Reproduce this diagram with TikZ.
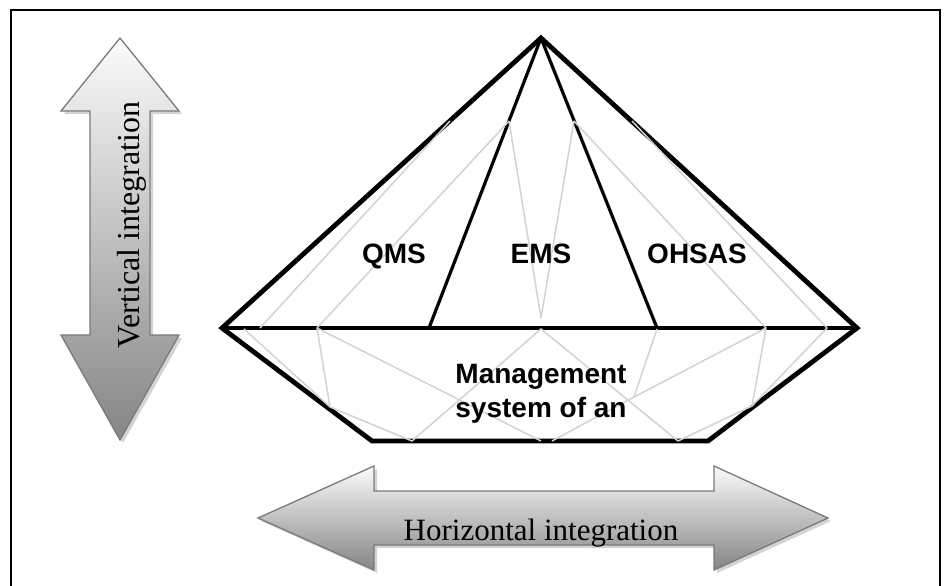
\documentclass[tikz,border=0pt]{standalone}
\usepackage{fontspec}
\setmainfont{Liberation Serif}
\newfontfamily\labelfont{Liberation Sans}
\definecolor{facetgray}{HTML}{D2D2D2}
\definecolor{arrowrim}{HTML}{7A7A7A}
\definecolor{arrowlight}{HTML}{FBFBFB}
\definecolor{arrowdark}{HTML}{858585}
\usetikzlibrary{shadows,calc}

\begin{document}
\begin{tikzpicture}[x=1pt,y=-1pt,every node/.style={inner sep=0pt},
      bigarrow/.style={top color=arrowlight,bottom color=arrowdark,draw=arrowrim,line width=1.3pt,line join=miter,
        drop shadow={shadow xshift=3pt,shadow yshift=-3pt,opacity=.35}},
      rim/.style={line width=4.8pt,line join=miter},
      divider/.style={line width=3.2pt},
      facet/.style={facetgray,line width=1.5pt,line join=round},
      syslabel/.style={font=\labelfont\bfseries\fontsize{28}{34}\selectfont,anchor=base},
      axislabel/.style={font=\fontsize{31}{36}\selectfont,anchor=base}]
    \useasboundingbox (0,0) rectangle (945,586);
    \draw[line width=2pt] (11,586) -- (11,10) -- (940,10) -- (940,586);

    % integration arrows
    \shade[bigarrow] (120,38) -- (179,111) -- (150,111) -- (150,335) -- (179,335) -- (120,440)
      -- (61,335) -- (90,335) -- (90,111) -- (61,111) -- cycle;
    \shade[bigarrow] (258,518) -- (374,466) -- (374,491) -- (714,491) -- (714,466) -- (828,518)
      -- (714,570) -- (714,545) -- (374,545) -- (374,570) -- cycle;
    \node[axislabel,rotate=90,font=\fontsize{32}{36}\selectfont] (vint) at (139,225) {Vertical integration};
    \node[axislabel] (hint) at (541,540) {Horizontal integration};

    % pyramid corners
    \coordinate (apex) at (541,38);
    \coordinate (west) at (222,328);
    \coordinate (east) at (857,328);
    \coordinate (sw) at (372,441);
    \coordinate (se) at (708,441);
    \coordinate (qfoot) at (429,328);
    \coordinate (ofoot) at (657,328);

    \draw[rim] (apex) -- (west) -- (sw) -- (se) -- (east) -- cycle;
    \draw[rim] (west) -- (east);
    \draw[divider] (apex) -- (qfoot);
    \draw[divider] (apex) -- (ofoot);

    % facet points
    \coordinate (u1) at (450,121);
    \coordinate (u2) at (509,121);
    \coordinate (u3) at (574,121);
    \coordinate (u4) at (632,121);
    \coordinate (m1) at (244,329);
    \coordinate (m2) at (260,328);
    \coordinate (m3) at (317,328);
    \coordinate (m4) at (541,318);
    \coordinate (m5) at (541,329);
    \coordinate (m6) at (657,329);
    \coordinate (m7) at (766,328);
    \coordinate (m8) at (827,328);
    \coordinate (p1) at (330,407);
    \coordinate (p2) at (634,397);
    \coordinate (p3) at (752,406);
    \coordinate (b1) at (412,441);
    \coordinate (b2) at (541,441);
    \coordinate (b3) at (552,441);
    \coordinate (b4) at (678,441);

    \draw[facet] (u1) -- (m2);
    \draw[facet] (u2) -- (m3);
    \draw[facet] (u2) -- (m4) -- (u3);
    \draw[facet] (u3) -- (m7);
    \draw[facet] (u4) -- (m8);
    \draw[facet] (m1) -- (p1) -- (m3);
    \draw[facet] (p1) -- (b1);
    \draw[facet] (m3) -- (b2);
    \draw[facet] (b1) -- (m5) -- (b4);
    \draw[facet] (m6) -- (p2) -- (b3);
    \draw[facet] (p2) -- (m7) -- (p3) -- (m8);
    \draw[facet] (p3) -- (b4);

    \node[syslabel] (qms) at (394,263) {QMS};
    \node[syslabel] (ems) at (541,263) {EMS};
    \node[syslabel] (ohsas) at (697,263) {OHSAS};
    \node[syslabel] (mgmt) at (541,383) {Management};
    \node[syslabel] (org) at (541,417) {system of an};
  \end{tikzpicture}
\end{document}
